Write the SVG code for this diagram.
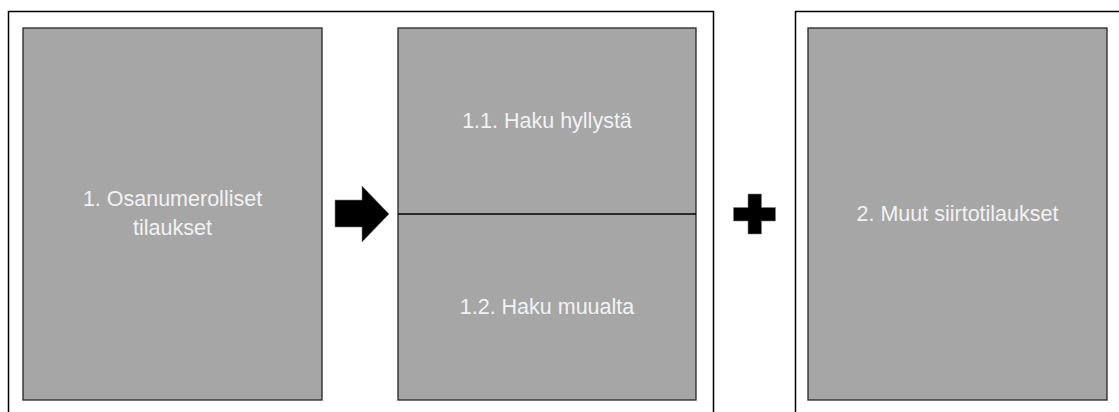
<svg xmlns="http://www.w3.org/2000/svg" width="1119" height="412" viewBox="0 0 1119 412">
  <style>
    .frame { fill: none; stroke: #000; stroke-width: 1.5; }
    .box { fill: #a6a6a6; stroke: #262626; stroke-width: 1.3; }
    .label { font-family: "Liberation Sans", Arial, sans-serif; font-size: 21.5px; fill: #f2f2f2; text-anchor: middle; }
    .sym { fill: #000; stroke: #7f7f7f; stroke-width: 0.6; }
  </style>
  <rect width="1119" height="412" fill="#fff"/>

  <!-- outer frames (open at the bottom / right edge) -->
  <g id="frames">
    <path class="frame" d="M8.5,420 V11.5 H713.5 V420"/>
    <path class="frame" d="M795.5,420 V11.5 H1130"/>
  </g>

  <g id="node-osanumerolliset">
    <rect class="box" x="23" y="28" width="299" height="372"/>
    <text class="label" x="172.5" y="206">1. Osanumerolliset</text>
    <text class="label" x="172.5" y="235">tilaukset</text>
  </g>

  <g id="node-haku">
    <rect class="box" x="398" y="28" width="298" height="372"/>
    <line x1="398" y1="214" x2="696" y2="214" stroke="#000" stroke-width="1.3"/>
    <text class="label" x="547" y="128">1.1. Haku hyllystä</text>
    <text class="label" x="547" y="314">1.2. Haku muualta</text>
  </g>

  <g id="node-muut">
    <rect class="box" x="808" y="28" width="299" height="372"/>
    <text class="label" x="957.5" y="221">2. Muut siirtotilaukset</text>
  </g>

  <g id="connectors">
    <!-- block arrow -->
    <polygon class="sym" points="335,200 362,200 362,186 389,214 362,242 362,227 335,227"/>
    <!-- plus sign -->
    <polygon class="sym" points="748,194 761.5,194 761.5,207.5 775.5,207.5 775.5,221 761.5,221 761.5,234 748,234 748,221 733.5,221 733.5,207.5 748,207.5"/>
  </g>
</svg>
